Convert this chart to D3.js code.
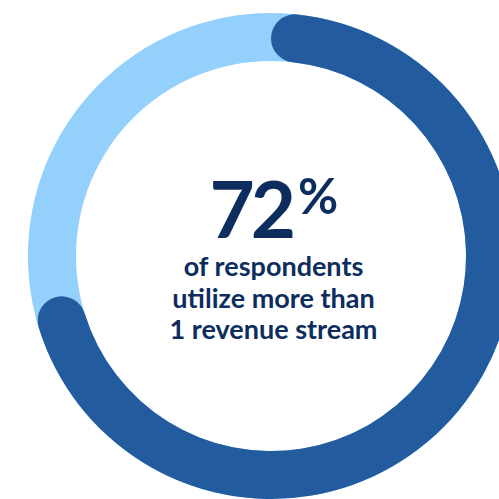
<!DOCTYPE html>
<html>
<head>
<meta charset="utf-8">
<script src="https://cdn.jsdelivr.net/npm/d3@7"></script>
<style>
  html, body { margin: 0; padding: 0; background: #ffffff; }
  svg { display: block; }
</style>
</head>
<body>
<svg id="chart" width="499" height="499"></svg>
<script>
// Share of respondents by number of revenue streams
const categories = ["More than 1 revenue stream", "1 revenue stream"];
const values = [72, 28];
const colors = ["#225c9f", "#93d0fc"];
const headline = "72";
const headlineUnit = "%";
const captionLines = ["of respondents", "utilize more than", "1 revenue stream"];

const svg = d3.select("#chart");
const cx = 271, cy = 256;
const outerR = 243, innerR = 195;
const g = svg.append("g").attr("transform", `translate(${cx},${cy})`);

const pie = d3.pie().sort(null).value(d => d)(values);

// light track: full ring behind the highlighted share
const track = d3.arc().innerRadius(innerR).outerRadius(outerR);
g.append("path")
  .attr("d", track({ startAngle: 0, endAngle: 2 * Math.PI }))
  .attr("fill", colors[1]);

// highlighted share with rounded ends
const mainArc = d3.arc()
  .innerRadius(innerR)
  .outerRadius(outerR)
  .cornerRadius((outerR - innerR) / 2);
g.append("path")
  .attr("d", mainArc(pie[0]))
  .attr("fill", colors[0]);

// center label
const textColor = "#0d2d5f";
const font = "Lato, 'Open Sans', sans-serif";
g.append("text")
  .attr("x", 21)
  .attr("y", -18)
  .attr("text-anchor", "end")
  .attr("fill", textColor)
  .attr("font-family", font)
  .attr("font-weight", 700)
  .attr("font-size", 78)
  .attr("letter-spacing", -4)
  .text(headline);
g.append("text")
  .attr("x", 27)
  .attr("y", -42)
  .attr("text-anchor", "start")
  .attr("fill", textColor)
  .attr("font-family", font)
  .attr("font-weight", 700)
  .attr("font-size", 49)
  .text(headlineUnit);

g.selectAll("text.caption")
  .data(captionLines)
  .join("text")
  .attr("class", "caption")
  .attr("x", 2.5)
  .attr("y", (d, i) => 20 + i * 31.5)
  .attr("text-anchor", "middle")
  .attr("fill", textColor)
  .attr("font-family", font)
  .attr("font-weight", 700)
  .attr("font-size", 27)
  .text(d => d);
</script>
</body>
</html>
